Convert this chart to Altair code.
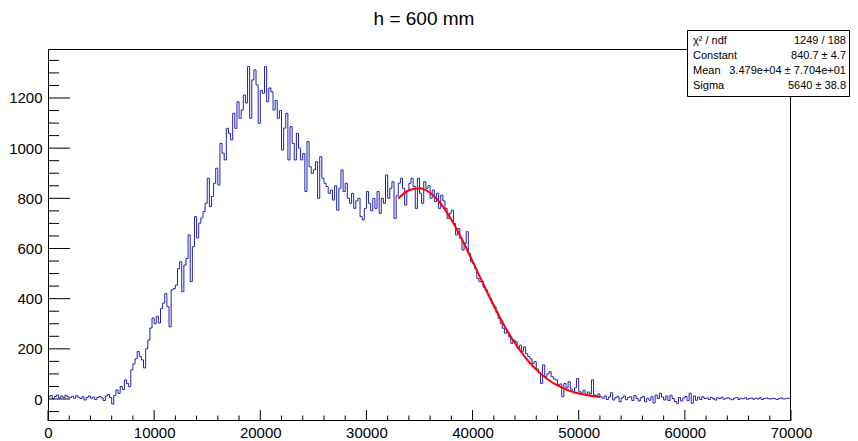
import altair as alt
import pandas as pd

# ---------------- data ----------------
BIN_WIDTH = 200
X_MIN, X_MAX = 0, 70000

counts = [
    8, 14, 2, 10, 16, 4, 12, 6, 15, 9,                       # 0-2000
    5, 11, 3, 13, 7, 2, 9, -4, 6, 12,                        # 2000-4000
    3, 8, -2, 6, 10, 4, -6, 12, 18, 6,                       # 4000-6000
    -20, 14, 36, 22, 50, 38, 76, 62, 49, 116,                # 6000-8000
    140, 160, 189, 170, 156, 124, 200, 235, 283, 323,        # 8000-10000
    300, 330, 303, 360, 383, 420, 368, 288, 435, 440,        # 10000-12000
    454, 520, 547, 428, 534, 560, 654, 468, 607, 727,        # 12000-14000
    642, 701, 722, 747, 780, 880, 767, 807, 860, 920,        # 14000-16000
    853, 1019, 980, 953, 1079, 1059, 1033, 1139, 1079, 1185, # 16000-18000
    1119, 1152, 1212, 1180, 1325, 1119, 1272, 1312, 1252, 1099,  # 18000-20000
    1230, 1219, 1325, 1185, 1240, 1225, 1152, 1190, 1119, 1150,  # 20000-22000
    993, 1080, 1139, 953, 1086, 1019, 953, 1059, 1000, 953,  # 22000-24000
    979, 827, 1026, 926, 900, 913, 946, 800, 966, 880,       # 24000-26000
    860, 847, 820, 833, 793, 850, 753, 840, 913, 827,        # 26000-28000
    860, 800, 780, 820, 760, 790, 800, 727, 714, 760,        # 28000-30000
    827, 780, 750, 800, 760, 827, 740, 800, 780, 893,        # 30000-32000
    800, 840, 866, 720, 810, 860, 880, 840, 773, 830,        # 32000-34000
    860, 880, 847, 760, 880, 820, 780, 866, 840, 850,        # 34000-36000
    800, 833, 787, 820, 760, 813, 790, 760, 720, 740,        # 36000-38000
    753, 700, 654, 680, 640, 594, 620, 667, 580, 547,        # 38000-40000
    540, 521, 480, 468, 470, 445, 435, 415, 400, 381,        # 40000-42000
    368, 345, 322, 300, 282, 262, 270, 248, 222, 235,        # 42000-44000
    228, 202, 215, 190, 208, 180, 169, 160, 142, 149,        # 44000-46000
    120, 105, 62, 136, 89, 100, 109, 89, 80, 76,             # 46000-48000
    56, 60, 9, 62, 45, 69, 40, 29, 45, 82,                   # 48000-50000
    29, 23, 35, 15, 28, 20, 76, 16, 12, 20,                  # 50000-52000
    9, 3, 12, -2, 8, 25, -4, 6, 10, -11,                     # 52000-54000
    4, 12, -3, 6, 9, -6, 14, 2, -8, 5,                       # 54000-56000
    10, -11, 3, -5, 9, -16, 16, 2, 23, 8,                    # 56000-58000
    -4, 12, -6, 15, 2, -10, -17, 6, -8, 4,                   # 58000-60000
    10, -6, 23, -17, 12, -5, 8, -2, 9, 2,                    # 60000-62000
    4, -2, 6, 1, -4, 5, 2, 7, -1, 3,                         # 62000-64000
    5, 0, -3, 4, 6, -2, 3, 1, 5, -1,                         # 64000-66000
    2, 4, -1, 3, 0, 5, -2, 2, 4, 1,                          # 66000-68000
    0, 3, 1, -2, 2, 4, 0, 1, 3, 2,                           # 68000-70000
]

# Gaussian fit curve
fit_x = [33000, 34000, 35000, 36000, 37000, 38000, 39000, 40000, 41000, 42000,
         43000, 44000, 45000, 46000, 47000, 48000, 49000, 50000, 51000, 52000]
fit_y = [799, 832, 840, 822, 779, 715, 637, 549, 459, 372,
         292, 222, 164, 117, 81, 54, 35, 22, 14, 8]

title_text = "h = 600 mm"
stats_labels = ["\u03c7\u00b2 / ndf", "Constant", "Mean", "Sigma"]
stats_values = ["1249 / 188", "840.7 \u00b1 4.7", "3.479e+04 \u00b1 7.704e+01", "5640 \u00b1 38.8"]

x_major = list(range(0, 70001, 10000))
x_minor = [v for v in range(0, 70001, 2000) if v % 10000]
y_major = list(range(0, 1201, 200))
y_minor = [v for v in range(-50, 1351, 50) if v % 200]

# ---------------- layout ----------------
W, H = 743, 372
Y_DOMAIN = [-87.7, 1395.3]
FONT = "Liberation Sans"
HIST_COLOR = "#2222b0"

edges = [X_MIN + i * BIN_WIDTH for i in range(len(counts))] + [X_MAX]
hist_df = pd.DataFrame({"x": edges, "count": counts + [counts[-1]]})
fit_df = pd.DataFrame({"x": fit_x, "y": fit_y})

sx = alt.Scale(domain=[X_MIN, X_MAX], nice=False, zero=False)
sy = alt.Scale(domain=Y_DOMAIN, nice=False, zero=False)

AX = alt.Axis(values=x_major, ticks=False, domain=False, grid=False, title=None,
              labelFontSize=15, labelFont=FONT, labelColor="black", labelPadding=4,
              labelFlush=False, format="d")
AY = alt.Axis(values=y_major, ticks=False, domain=False, grid=False, title=None,
              labelFontSize=15, labelFont=FONT, labelColor="black", labelPadding=6,
              format="d")

hist = alt.Chart(hist_df).mark_line(
    interpolate="step-after", color=HIST_COLOR, strokeWidth=1
).encode(
    x=alt.X("x:Q", scale=sx, axis=AX),
    y=alt.Y("count:Q", scale=sy, axis=AY),
)

fit = alt.Chart(fit_df).mark_line(
    interpolate="monotone", color="#ff0000", strokeWidth=2
).encode(
    x=alt.X("x:Q", scale=sx, axis=AX),
    y=alt.Y("y:Q", scale=sy, axis=AY),
)

def xticks(vals, length):
    return alt.Chart(pd.DataFrame({"v": vals})).mark_rule(
        color="black", strokeWidth=1
    ).encode(
        x=alt.X("v:Q", scale=sx, axis=AX),
        y=alt.value(H), y2=alt.value(H - length),
    )

def yticks(vals, length):
    return alt.Chart(pd.DataFrame({"v": vals})).mark_rule(
        color="black", strokeWidth=1
    ).encode(
        y=alt.Y("v:Q", scale=sy, axis=AY),
        x=alt.value(0), x2=alt.value(length),
    )

one = pd.DataFrame({"a": [0]})
frame = alt.Chart(one).mark_rect(
    filled=False, stroke="black", strokeWidth=1
).encode(x=alt.value(0.5), x2=alt.value(W - 0.5), y=alt.value(0.5), y2=alt.value(H - 0.5))

title = alt.Chart(one).mark_text(
    fontSize=19, font=FONT, color="black", align="center", baseline="middle"
).encode(x=alt.value(376), y=alt.value(-30), text=alt.value(title_text))

box = alt.Chart(one).mark_rect(
    fill="white", stroke="black", strokeWidth=1
).encode(x=alt.value(639.5), x2=alt.value(801.5), y=alt.value(-18.5), y2=alt.value(47.5))

stat_layers = []
row_y = [-8, 7, 22, 37]
for lab, val, ry in zip(stats_labels, stats_values, row_y):
    stat_layers.append(alt.Chart(one).mark_text(
        fontSize=11, font=FONT, color="black", align="left", baseline="middle"
    ).encode(x=alt.value(645), y=alt.value(ry), text=alt.value(lab)))
    stat_layers.append(alt.Chart(one).mark_text(
        fontSize=11, font=FONT, color="black", align="right", baseline="middle"
    ).encode(x=alt.value(798), y=alt.value(ry), text=alt.value(val)))

chart = alt.layer(
    hist, fit,
    xticks(x_major, 11), xticks(x_minor, 5.5),
    yticks(y_major, 22), yticks(y_minor, 11),
    frame, box, *stat_layers, title,
).properties(
    width=W, height=H,
    padding={"left": 40, "top": 41, "right": 59, "bottom": 20},
    autosize=alt.AutoSizeParams(type="none"),
    background="white",
).configure_view(stroke=None)

chart.save("out.html", embed_options={"renderer": "svg", "actions": False})
